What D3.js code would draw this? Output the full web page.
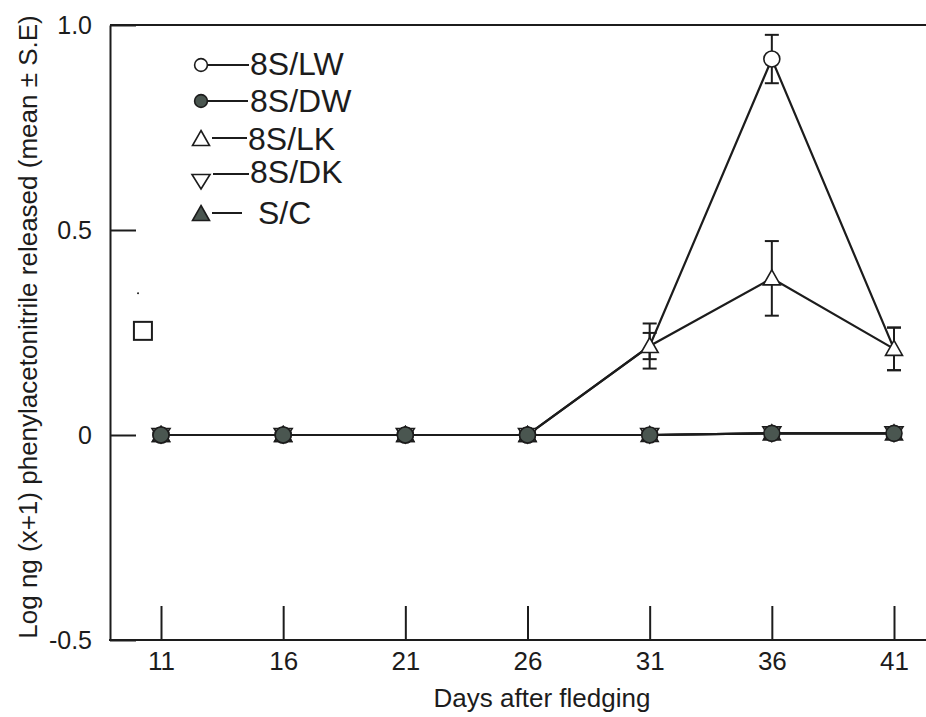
<!DOCTYPE html>
<html>
<head>
<meta charset="utf-8">
<script src="https://cdn.jsdelivr.net/npm/d3@7"></script>
<style>
  html, body { margin: 0; padding: 0; background: #ffffff; }
  svg { display: block; font-family: "Liberation Sans", Arial, Helvetica, sans-serif; }
</style>
</head>
<body>
<svg id="chart" width="926" height="717"></svg>
<script>
// ---------- data ----------
const days = [11, 16, 21, 26, 31, 36, 41];
const seriesNames = ["8S/LW", "8S/DW", "8S/LK", "8S/DK", "S/C"];
const lwMean = [0, 0, 0, 0, 0.217, 0.917, 0.21];
const lwSE   = [0, 0, 0, 0, 0.055, 0.059, 0.052];
const dwMean = [0, 0, 0, 0, 0, 0.004, 0.004];
const lkMean = [0, 0, 0, 0, 0.217, 0.382, 0.21];
const lkSE   = [0, 0, 0, 0, 0.032, 0.091, 0.052];
const dkMean = [0, 0, 0, 0, 0, 0.004, 0.004];
const scMean = [0, 0, 0, 0, 0, 0.004, 0.004];
// in the figure the 8S/LW circles at days 31 and 41 are hidden under the 8S/LK triangles
const lwMarkerShown = [true, true, true, true, false, true, false];
const yTickValues = [-0.5, 0, 0.5, 1.0];
const yTickLabels = ["-0.5", "0", "0.5", "1.0"];
const xTickValues = [11, 16, 21, 26, 31, 36, 41];
const strayDay = [10.26];     // stray open square in the figure
const strayValue = [0.254];
const speckDay = [10.06];
const speckValue = [0.346];

// ---------- scales ----------
const svg = d3.select("#chart");
const x = d3.scaleLinear().domain([11, 41]).range([161, 894]);
const y = d3.scaleLinear().domain([-0.5, 1.0]).range([640, 25]);
const INK = "#1c1c1c";
const FILL = "#4a5650";

// ---------- frame ----------
const leftX = 110, rightX = 926;
svg.append("line").attr("x1", leftX).attr("x2", rightX).attr("y1", y(1.0)).attr("y2", y(1.0))
  .attr("stroke", INK).attr("stroke-width", 2);

// axes
const yAxis = d3.axisLeft(y).tickValues(yTickValues)
  .tickFormat((d, i) => yTickLabels[i]).tickSizeInner(-26).tickSizeOuter(0).tickPadding(18);
const gy = svg.append("g").attr("transform", `translate(${leftX},0)`).call(yAxis);
gy.select(".domain").attr("stroke", INK).attr("stroke-width", 2);
gy.selectAll(".tick line").attr("stroke", INK).attr("stroke-width", 2);
gy.selectAll(".tick text").attr("font-size", 25).attr("fill", INK)
  .attr("font-family", "Liberation Sans, Arial, sans-serif");

const xAxis = d3.axisBottom(x).tickValues(xTickValues).tickFormat(d3.format("d"))
  .tickSizeInner(-34).tickSizeOuter(0).tickPadding(12);
const gx = svg.append("g").attr("transform", `translate(0,${y(-0.5)})`).call(xAxis);
gx.select(".domain").remove();
gx.append("line").attr("x1", leftX - 1).attr("x2", rightX).attr("y1", 0).attr("y2", 0)
  .attr("stroke", INK).attr("stroke-width", 2);
gx.selectAll(".tick line").attr("stroke", INK).attr("stroke-width", 2);
gx.selectAll(".tick text").attr("font-size", 26).attr("fill", INK)
  .attr("font-family", "Liberation Sans, Arial, sans-serif");

// axis titles
svg.append("text").attr("x", 542).attr("y", 707).attr("text-anchor", "middle")
  .attr("font-size", 26).attr("fill", INK).text("Days after fledging");
svg.append("text").attr("transform", "translate(37,327) rotate(-90)").attr("text-anchor", "middle")
  .attr("font-size", 26).attr("fill", INK)
  .text("Log ng (x+1) phenylacetonitrile released (mean \u00b1 S.E)");

// ---------- marker shapes ----------
function drawMarker(g, kind, cx, cy, s) {
  s = s || 1;
  if (kind === "circleOpen" || kind === "circleFilled") {
    g.append("circle").attr("cx", cx).attr("cy", cy).attr("r", 8 * s)
      .attr("fill", kind === "circleOpen" ? "#fff" : FILL).attr("stroke", INK).attr("stroke-width", 1.6);
  } else if (kind === "triUpOpen" || kind === "triUpFilled") {
    const p = [[0, -8.5], [8.5, 6.5], [-8.5, 6.5]].map(q => [cx + q[0] * s, cy + q[1] * s]);
    g.append("path").attr("d", "M" + p.join("L") + "Z")
      .attr("fill", kind === "triUpOpen" ? "#fff" : FILL).attr("stroke", INK).attr("stroke-width", 1.6)
      .attr("stroke-linejoin", "miter");
  } else if (kind === "triDownOpen") {
    const p = [[0, 8], [9, -6.5], [-9, -6.5]].map(q => [cx + q[0] * s, cy + q[1] * s]);
    g.append("path").attr("d", "M" + p.join("L") + "Z")
      .attr("fill", "#fff").attr("stroke", INK).attr("stroke-width", 1.6);
  }
}

const series = [
  { name: seriesNames[0], mean: lwMean, se: lwSE, marker: "circleOpen", shown: lwMarkerShown },
  { name: seriesNames[1], mean: dwMean, se: null, marker: "circleFilled" },
  { name: seriesNames[2], mean: lkMean, se: lkSE, marker: "triUpOpen" },
  { name: seriesNames[3], mean: dkMean, se: null, marker: "triDownOpen" },
  { name: seriesNames[4], mean: scMean, se: null, marker: "triUpFilled" }
];

// ---------- lines ----------
const lineGen = d3.line().x((d, i) => x(days[i])).y(d => y(d));
series.forEach(s => {
  svg.append("path").datum(s.mean).attr("d", lineGen)
    .attr("fill", "none").attr("stroke", INK).attr("stroke-width", 2.2);
});

// ---------- error bars ----------
series.filter(s => s.se).forEach(s => {
  s.mean.forEach((m, i) => {
    const e = s.se[i];
    if (!e) return;
    const cx = x(days[i]);
    const g = svg.append("g").attr("stroke", INK).attr("stroke-width", 2);
    g.append("line").attr("x1", cx).attr("x2", cx).attr("y1", y(m - e)).attr("y2", y(m + e));
    g.append("line").attr("x1", cx - 7).attr("x2", cx + 7).attr("y1", y(m + e)).attr("y2", y(m + e));
    g.append("line").attr("x1", cx - 7).attr("x2", cx + 7).attr("y1", y(m - e)).attr("y2", y(m - e));
  });
});

// ---------- markers (drawn in stacking order) ----------
const drawOrder = [0, 2, 3, 4, 1];
const gm = svg.append("g");
drawOrder.forEach(k => {
  const s = series[k];
  s.mean.forEach((m, i) => {
    if (s.shown && !s.shown[i]) return;
    drawMarker(gm, s.marker, x(days[i]), y(m));
  });
});

// stray square and speck
strayDay.forEach((d, i) => {
  svg.append("rect").attr("x", x(d) - 9).attr("y", y(strayValue[i]) - 9)
    .attr("width", 18).attr("height", 18).attr("fill", "none")
    .attr("stroke", INK).attr("stroke-width", 2);
});
speckDay.forEach((d, i) => {
  svg.append("circle").attr("cx", x(d)).attr("cy", y(speckValue[i])).attr("r", 1)
    .attr("fill", INK);
});

// ---------- legend ----------
const legendRows = [65, 101, 138, 174, 213];
const lineStart = [207, 208, 212, 213, 212];
const lineEnd = [249, 248, 247, 249, 242];
const textX = [250, 250, 248, 250, 258];
const textDy = [-1, 0, 1, -2, 0];
const lg = svg.append("g");
series.forEach((s, i) => {
  const yy = legendRows[i];
  lg.append("line").attr("x1", lineStart[i]).attr("x2", lineEnd[i]).attr("y1", yy).attr("y2", yy)
    .attr("stroke", INK).attr("stroke-width", 2);
  const my = s.marker === "triDownOpen" ? yy + 7 : (s.marker.startsWith("triUp") ? yy + 1 : yy);
  drawMarker(lg, s.marker, 201, my, s.marker.startsWith("circle") ? 0.8 : 1);
  lg.append("text").attr("x", textX[i]).attr("y", yy + 11 + textDy[i])
    .attr("font-size", 32).attr("fill", INK).text(s.name);
});
</script>
</body>
</html>
